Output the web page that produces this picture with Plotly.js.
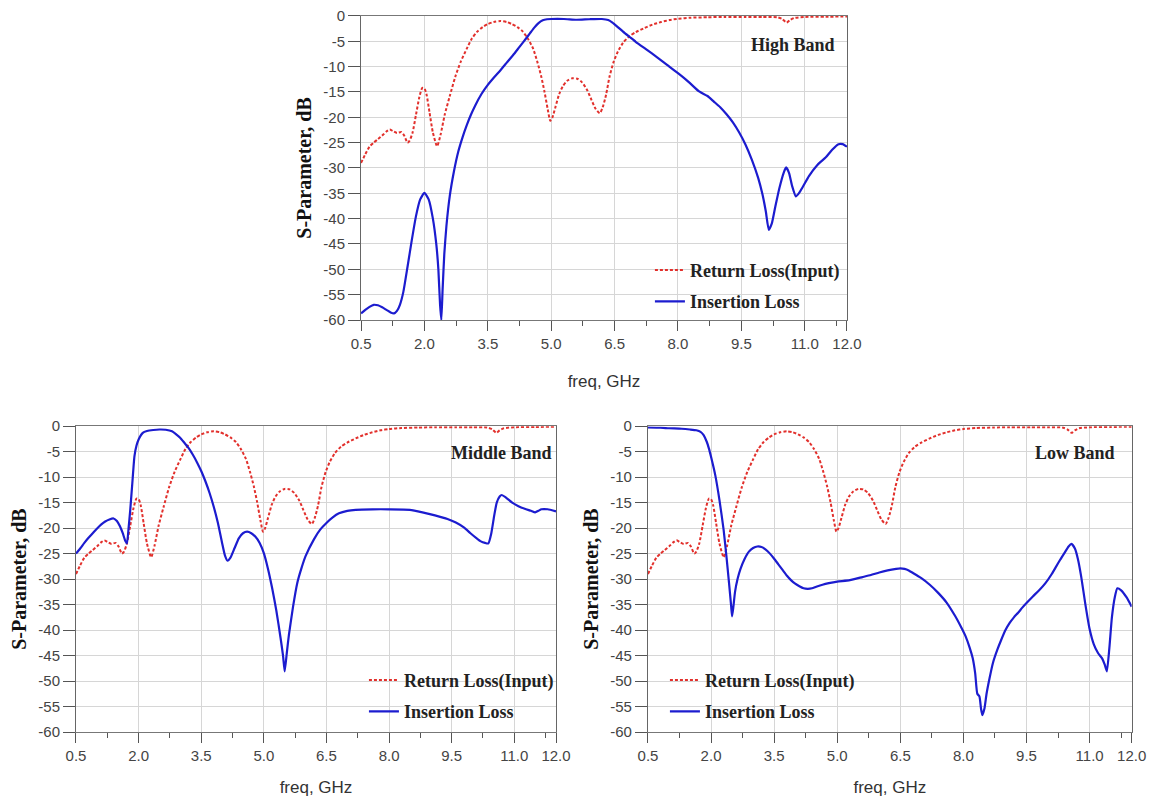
<!DOCTYPE html>
<html><head><meta charset="utf-8">
<script src="https://cdn.plot.ly/plotly-3.0.1.min.js"></script>
<style>html,body{margin:0;padding:0;background:#fff}#chart{width:1155px;height:798px}</style>
</head><body><div id="chart"></div><script>
// Return loss (input) — identical in all three panels
const rlFreq = [0.5,0.6,0.7,0.8,0.9,1.0,1.1,1.18,1.25,1.35,1.45,1.52,1.6,1.65,1.72,1.8,1.88,1.95,2.0,2.05,2.12,2.2,2.3,2.38,2.48,2.6,2.73,2.86,3.0,3.12,3.25,3.38,3.5,3.64,3.8,3.95,4.07,4.2,4.33,4.45,4.57,4.67,4.76,4.84,4.92,4.98,5.03,5.1,5.19,5.28,5.38,5.5,5.62,5.73,5.85,5.95,6.05,6.15,6.22,6.3,6.38,6.48,6.58,6.7,6.85,7.0,7.2,7.4,7.6,7.8,8.0,8.3,8.7,9.1,9.6,10.0,10.35,10.47,10.57,10.65,10.75,11.0,11.5,12.0];
const rlDb = [-29,-27.3,-25.8,-25.0,-24.3,-23.6,-22.8,-22.4,-22.7,-23.1,-22.9,-23.6,-25.0,-24.6,-23.0,-19.5,-16.0,-14.2,-14.3,-15.5,-19.0,-23.0,-25.7,-23.5,-19.5,-15.8,-12.0,-9.0,-6.5,-4.5,-3.1,-2.2,-1.6,-1.2,-1.0,-1.2,-1.6,-2.2,-3.1,-4.5,-6.4,-9.0,-11.8,-14.9,-18.5,-20.7,-20.0,-18.0,-15.4,-13.8,-12.8,-12.3,-12.4,-13.1,-14.6,-16.5,-18.3,-19.2,-18.0,-15.5,-12.0,-9.0,-7.0,-5.3,-4.0,-3.2,-2.4,-1.7,-1.2,-0.8,-0.55,-0.35,-0.25,-0.2,-0.2,-0.2,-0.25,-0.6,-1.3,-0.8,-0.4,-0.2,-0.15,-0.1];

// Insertion loss — High Band
const highFreq = [0.5,0.6,0.7,0.8,0.9,1.0,1.1,1.2,1.28,1.35,1.42,1.5,1.6,1.7,1.8,1.9,2.0,2.1,2.2,2.28,2.33,2.37,2.4,2.43,2.47,2.52,2.6,2.7,2.8,2.9,3.0,3.1,3.2,3.35,3.5,3.65,3.8,3.95,4.1,4.25,4.4,4.5,4.6,4.7,4.8,4.9,5.0,5.3,5.6,5.9,6.2,6.35,6.45,6.55,6.7,6.85,7.0,7.25,7.5,7.75,8.0,8.25,8.5,8.7,8.85,9.0,9.15,9.3,9.45,9.6,9.75,9.9,10.0,10.08,10.15,10.22,10.3,10.4,10.5,10.56,10.63,10.7,10.79,10.86,10.95,11.1,11.3,11.5,11.65,11.8,11.9,12.0];
const highDb = [-58.7,-58.0,-57.4,-57.0,-57.1,-57.5,-58.0,-58.5,-58.7,-58.2,-57.0,-54.5,-49.5,-44.3,-39.5,-36.2,-34.9,-36.2,-40.0,-45.0,-50.0,-57.0,-60.0,-54.0,-47.0,-41.5,-35.5,-30.6,-26.8,-24.0,-21.6,-19.5,-17.7,-15.4,-13.6,-12.1,-10.7,-9.2,-7.7,-6.1,-4.5,-3.4,-2.3,-1.4,-0.85,-0.65,-0.6,-0.6,-0.75,-0.65,-0.6,-0.8,-1.3,-2.0,-3.1,-4.1,-5.1,-6.6,-8.1,-9.7,-11.3,-13.0,-14.9,-15.8,-16.9,-18.0,-19.4,-21.0,-23.0,-25.4,-28.4,-32.0,-35.2,-38.6,-42.2,-41.0,-37.8,-34.0,-31.0,-29.9,-31.0,-33.5,-35.6,-35.0,-33.8,-31.6,-29.4,-27.9,-26.4,-25.3,-25.3,-25.8];

// Insertion loss — Middle Band
const midFreq = [0.5,0.6,0.7,0.8,0.9,1.0,1.1,1.2,1.3,1.4,1.48,1.55,1.62,1.68,1.72,1.76,1.8,1.85,1.9,1.95,2.0,2.1,2.2,2.35,2.5,2.65,2.8,2.9,3.0,3.1,3.2,3.3,3.4,3.5,3.6,3.7,3.8,3.9,4.0,4.07,4.13,4.2,4.3,4.4,4.5,4.6,4.7,4.8,4.9,5.0,5.1,5.2,5.3,5.4,5.46,5.5,5.55,5.6,5.7,5.8,5.9,6.0,6.2,6.35,6.5,6.65,6.8,7.0,7.2,7.6,8.0,8.5,8.8,9.1,9.4,9.6,9.8,9.95,10.1,10.2,10.3,10.38,10.45,10.52,10.58,10.65,10.7,10.8,10.95,11.1,11.25,11.4,11.5,11.58,11.65,11.8,12.0];
const midDb = [-25,-24,-22.9,-21.9,-21.0,-20.1,-19.3,-18.7,-18.3,-18.1,-18.6,-19.6,-21.0,-22.5,-23.0,-20.0,-16.4,-11.1,-5.9,-3.8,-2.6,-1.3,-0.95,-0.75,-0.65,-0.7,-1.0,-1.6,-2.3,-3.3,-4.3,-5.6,-7.1,-8.8,-10.8,-13.1,-15.8,-19.0,-22.9,-25.4,-26.4,-25.8,-23.9,-22.0,-21.0,-20.7,-21.0,-21.7,-22.9,-24.9,-28.0,-31.8,-36.2,-41.5,-45.0,-48.1,-44.5,-41.0,-35.4,-30.8,-27.9,-25.5,-22.2,-20.3,-19.0,-17.9,-17.1,-16.6,-16.4,-16.3,-16.3,-16.4,-16.9,-17.5,-18.2,-18.9,-19.9,-21.0,-22.0,-22.6,-22.9,-23.0,-21.0,-17.5,-15.0,-13.8,-13.5,-14.0,-15.0,-15.7,-16.2,-16.6,-16.9,-16.6,-16.3,-16.3,-16.7];

// Insertion loss — Low Band
const lowFreq = [0.5,0.8,1.0,1.3,1.5,1.65,1.75,1.82,1.9,1.95,2.0,2.1,2.2,2.3,2.37,2.43,2.48,2.5,2.53,2.57,2.63,2.7,2.8,2.9,3.0,3.1,3.2,3.3,3.4,3.5,3.6,3.7,3.8,3.9,4.0,4.1,4.2,4.3,4.4,4.5,4.65,4.8,5.0,5.3,5.6,5.8,6.0,6.2,6.4,6.5,6.6,6.7,6.8,6.9,7.0,7.2,7.4,7.6,7.8,7.95,8.05,8.15,8.22,8.28,8.33,8.38,8.42,8.45,8.5,8.55,8.62,8.7,8.8,8.9,9.0,9.1,9.2,9.3,9.4,9.5,9.65,9.8,9.95,10.1,10.2,10.3,10.4,10.5,10.57,10.65,10.72,10.8,10.9,11.0,11.1,11.2,11.3,11.36,11.41,11.47,11.53,11.6,11.66,11.75,11.88,12.0];
const lowDb = [-0.25,-0.3,-0.4,-0.5,-0.65,-0.8,-1.1,-1.7,-3.1,-4.4,-6.0,-9.6,-14.5,-20.4,-25.9,-31.0,-35.5,-37.3,-35.5,-32.5,-30.0,-28.0,-26.0,-24.6,-23.9,-23.6,-23.7,-24.2,-25.0,-26.0,-27.1,-28.2,-29.3,-30.2,-30.9,-31.4,-31.8,-31.9,-31.8,-31.5,-31.1,-30.8,-30.5,-30.2,-29.6,-29.2,-28.7,-28.3,-28.0,-27.9,-28.0,-28.3,-28.8,-29.3,-29.8,-31.1,-32.7,-34.6,-37.2,-39.5,-41.2,-43.5,-45.5,-48.5,-52.5,-53.0,-55.5,-56.7,-55.4,-52.5,-49.5,-46.5,-44.0,-41.9,-40.0,-38.6,-37.5,-36.6,-35.6,-34.7,-33.4,-32.2,-30.8,-29.0,-27.6,-26.2,-24.9,-23.6,-23.1,-24.0,-26.0,-29.5,-35.0,-39.8,-42.8,-44.5,-45.6,-46.8,-48.1,-43.5,-37.5,-33.5,-31.8,-32.2,-33.6,-35.4];

const xTickVals = [0.5,2.0,3.5,5.0,6.5,8.0,9.5,11.0,12.0];
const xTickText = ['0.5','2.0','3.5','5.0','6.5','8.0','9.5','11.0','12.0'];
const xMinorVals = [1.25,2.75,4.25,5.75,7.25,8.75,10.25,11.75];
const yTickVals = [0,-5,-10,-15,-20,-25,-30,-35,-40,-45,-50,-55,-60];
const yTickText = ['0','-5','-10','-15','-20','-25','-30','-35','-40','-45','-50','-55','-60'];
const seriesNames = ['Return Loss(Input)','Insertion Loss'];
const bandLabels = ['High Band','Middle Band','Low Band'];
const xTitle = 'freq, GHz';
const yTitle = 'S-Parameter, dB';

const RED = '#e2302c', BLUE = '#1c1ccf';
const panels = [
  {f: highFreq, d: highDb, xa:'x',  ya:'y',  lg:'legend'},
  {f: midFreq,  d: midDb,  xa:'x2', ya:'y2', lg:'legend2'},
  {f: lowFreq,  d: lowDb,  xa:'x3', ya:'y3', lg:'legend3'}
];
const traces = [];
panels.forEach((p, i) => {
  traces.push({x: rlFreq, y: rlDb, xaxis: p.xa, yaxis: p.ya, name: seriesNames[0], legend: p.lg, legendgroup: 'rl'+i,
    type:'scatter', mode:'lines', line:{color:RED, width:2, dash:'3px,2px', shape:'spline', smoothing:0.6}, hoverinfo:'skip'});
  traces.push({x: p.f, y: p.d, xaxis: p.xa, yaxis: p.ya, name: seriesNames[1], legend: p.lg, legendgroup: 'il'+i,
    type:'scatter', mode:'lines', line:{color:BLUE, width:2.2, shape:'spline', smoothing:0.5}, hoverinfo:'skip'});
});

function xAxis(domain, anchor, standoff) {
  return {domain, anchor, range:[0.5,12], tickmode:'array', tickvals:xTickVals, ticktext:xTickText,
    ticks:'outside', ticklen:10, tickwidth:1, tickcolor:'#555',
    showgrid:true, gridcolor:'#d6d6d6', gridwidth:1, zeroline:false,
    showline:true, linecolor:'#777', linewidth:1, mirror:true,
    tickfont:{family:'Liberation Sans, Arial, sans-serif', size:15, color:'#444'},
    title:{text:xTitle, font:{family:'Liberation Sans, Arial, sans-serif', size:17, color:'#333'}, standoff},
    minor:{tickmode:'array', tickvals:xMinorVals, ticks:'outside', ticklen:5, tickcolor:'#555', showgrid:false},
    automargin:false, fixedrange:true};
}
function yAxis(domain, anchor) {
  return {domain, anchor, range:[-60,0], tickmode:'array', tickvals:yTickVals, ticktext:yTickText,
    ticks:'outside', ticklen:12, tickwidth:1, tickcolor:'#555',
    showgrid:true, gridcolor:'#d6d6d6', gridwidth:1, zeroline:false,
    showline:true, linecolor:'#666', linewidth:1, mirror:true,
    tickfont:{family:'Liberation Sans, Arial, sans-serif', size:15, color:'#444'},
    title:{text:yTitle, font:{family:'Liberation Serif, Times New Roman, serif', size:20, color:'#111', weight:'bold'}, standoff:6},
    automargin:false, fixedrange:true};
}
function legendAt(x, y) {
  return {x, y, xanchor:'left', yanchor:'top', bgcolor:'rgba(0,0,0,0)', borderwidth:0,
    font:{family:'Liberation Serif, Times New Roman, serif', size:18, color:'#222', weight:'bold'},
    tracegroupgap:5, traceorder:'grouped', itemclick:false, itemdoubleclick:false};
}
function bandNote(text, x, y) {
  return {text:'<b>'+text+'</b>', xref:'paper', yref:'paper', x, y, xanchor:'center', yanchor:'middle', showarrow:false,
    font:{family:'Liberation Serif, Times New Roman, serif', size:18, color:'#222'}};
}

const layout = {
  width:1155, height:798, margin:{l:0, r:0, t:0, b:0},
  paper_bgcolor:'#fff', plot_bgcolor:'#fff', showlegend:true,
  xaxis:  xAxis([0.3126, 0.7333], 'y', 24),
  yaxis:  yAxis([0.5990, 0.9800], 'x'),
  xaxis2: xAxis([0.0658, 0.4814], 'y2', 18),
  yaxis2: yAxis([0.0827, 0.4659], 'x2'),
  xaxis3: xAxis([0.5610, 0.9798], 'y3', 18),
  yaxis3: yAxis([0.0827, 0.4659], 'x3'),
  legend:  legendAt(0.5627, 0.6845),
  legend2: legendAt(0.3151, 0.1707),
  legend3: legendAt(0.5757, 0.1707),
  annotations: [bandNote(bandLabels[0], 0.6866, 0.9436), bandNote(bandLabels[1], 0.4338, 0.4323), bandNote(bandLabels[2], 0.9307, 0.4323)]
};
Plotly.newPlot('chart', traces, layout, {staticPlot:true, displayModeBar:false});
</script></body></html>
